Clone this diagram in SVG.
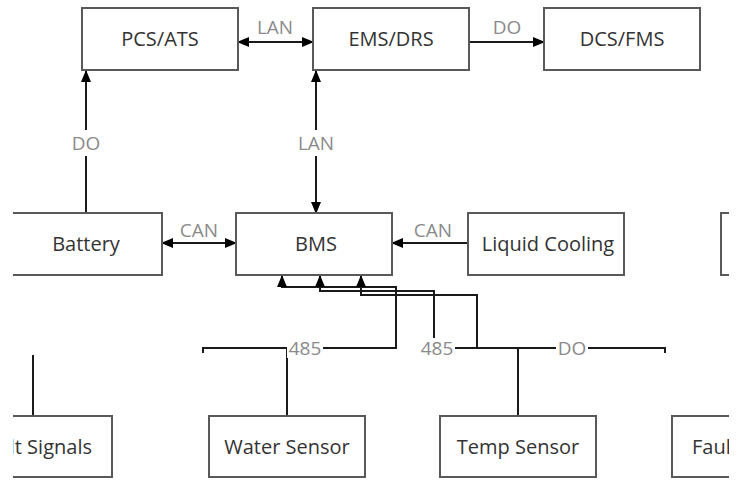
<svg xmlns="http://www.w3.org/2000/svg" width="745" height="481" viewBox="0 0 745 481">
<style>
.box{fill:#fff;stroke:#595959;stroke-width:2}
.t{font-family:"Open Sans","Liberation Sans",sans-serif;font-size:20px;fill:#333;text-anchor:middle}
.lbl{font-family:"Open Sans","Liberation Sans",sans-serif;font-size:19px;fill:#8a8a8a;text-anchor:middle}
.c{fill:none;stroke:#1a1a1a;stroke-width:2}
.bg{fill:#fff}
</style>
<defs>
<marker id="ah" markerWidth="12" markerHeight="10" refX="11" refY="5" orient="auto-start-reverse" markerUnits="userSpaceOnUse">
<path d="M0,0 L12,5 L0,10 Z" fill="#000"/>
</marker>
<clipPath id="view"><rect x="13" y="0" width="716" height="481"/></clipPath>
</defs>
<rect width="745" height="481" fill="#fff"/>
<g clip-path="url(#view)">
<g id="connectors">
<path class="c" d="M238,42 H313" marker-start="url(#ah)" marker-end="url(#ah)"/>
<path class="c" d="M468,42 H544" marker-end="url(#ah)"/>
<path class="c" d="M86,213 V71" marker-end="url(#ah)"/>
<path class="c" d="M316,71 V213" marker-start="url(#ah)" marker-end="url(#ah)"/>
<path class="c" d="M162,243 H236" marker-start="url(#ah)" marker-end="url(#ah)"/>
<path class="c" d="M468,243 H392" marker-end="url(#ah)"/>
<path class="c" d="M287,416 V348"/>
<path class="c" d="M203,353 V348 H396 V287 H282 V276" marker-end="url(#ah)"/>
<path class="c" d="M518,416 V348 H434 V291 H320 V276" marker-end="url(#ah)"/>
<path class="c" d="M665,353 V348 H477 V295 H361 V276" marker-end="url(#ah)"/>
<path class="c" d="M33,416 V355"/>
<g id="labels">
<text class="lbl" x="275" y="34">LAN</text>
<text class="lbl" x="507" y="34">DO</text>
<rect class="bg" x="70" y="130" width="32" height="26"/>
<text class="lbl" x="86" y="150">DO</text>
<rect class="bg" x="296" y="130" width="40" height="26"/>
<text class="lbl" x="316" y="150">LAN</text>
<text class="lbl" x="199" y="237">CAN</text>
<text class="lbl" x="433" y="237">CAN</text>
<rect class="bg" x="287" y="338" width="36" height="20"/>
<text class="lbl" x="305" y="355">485</text>
<rect class="bg" x="419" y="338" width="36" height="20"/>
<text class="lbl" x="437" y="355">485</text>
<rect class="bg" x="556" y="338" width="32" height="20"/>
<text class="lbl" x="572" y="355">DO</text>
</g>
</g>
<g id="node-pcs"><rect class="box" x="82" y="8" width="156" height="62"/><text class="t" x="160" y="46">PCS/ATS</text></g>
<g id="node-ems"><rect class="box" x="313" y="8" width="156" height="62"/><text class="t" x="391" y="46">EMS/DRS</text></g>
<g id="node-dcs"><rect class="box" x="544" y="8" width="156" height="62"/><text class="t" x="622" y="46">DCS/FMS</text></g>
<g id="node-battery"><rect class="box" x="6" y="213" width="156" height="62"/><text class="t" x="86" y="251">Battery</text></g>
<g id="node-bms"><rect class="box" x="236" y="213" width="156" height="62"/><text class="t" x="316" y="251">BMS</text></g>
<g id="node-cooling"><rect class="box" x="468" y="213" width="156" height="62"/><text class="t" x="548" y="251">Liquid Cooling</text></g>
<g id="node-right"><rect class="box" x="721" y="213" width="156" height="62"/></g>
<g id="node-signals"><rect class="box" x="-44" y="416" width="156" height="61"/><text class="t" x="34" y="454">Fault Signals</text></g>
<g id="node-water"><rect class="box" x="209" y="416" width="156" height="61"/><text class="t" x="287" y="454">Water Sensor</text></g>
<g id="node-temp"><rect class="box" x="440" y="416" width="156" height="61"/><text class="t" x="518" y="454">Temp Sensor</text></g>
<g id="node-fault"><rect class="box" x="672" y="416" width="156" height="61"/><text class="t" x="750" y="454">Fault Signals</text></g>
</g>
</svg>
